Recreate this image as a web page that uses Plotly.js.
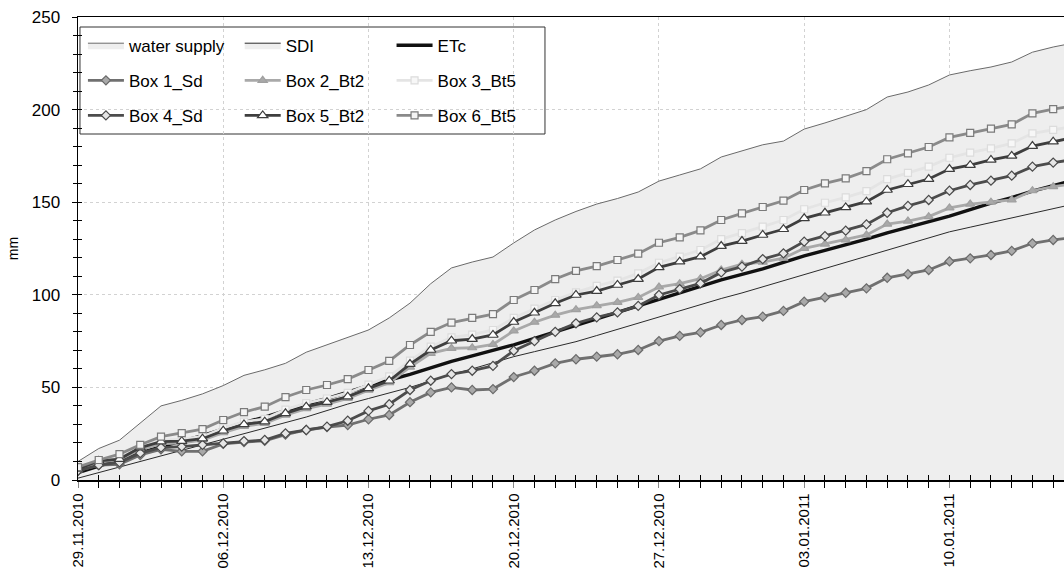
<!DOCTYPE html>
<html>
<head>
<meta charset="utf-8">
<script src="https://cdn.plot.ly/plotly-3.0.1.min.js"></script>
<style>html,body{margin:0;padding:0;background:#fff;}#chart{width:1064px;height:585px;}</style>
</head>
<body>
<div id="chart"></div>
<script>
// first day of the daily series
const startDate = '2010-11-29';
const xRangeEnd = '2011-01-15 12:30';

// daily cumulative values (mm), day 0 = 29.11.2010
const waterSupply = [10,17,21.5,31,40,43,46.5,51,56.5,59.5,63,69,73,77,81,87.5,95.5,106,114.5,117.7,120.4,128,135,140.4,145,149,152,155.5,161.4,164.7,168,174.4,177.6,181,183,189.5,192.8,196.5,200,206.8,209.5,213.3,218.7,221,223,225.7,231,233.8,236];
const sdi = [1,4,7,10,13,16,19,22,25,28,31,34,37.5,41,44,47,50,53.5,57,60,63.5,66.6,69.3,72,74.7,78,81.4,84.7,88,91.4,94.7,98,101,104.3,107.6,111,114.2,117.5,120.8,124,127.5,130.8,134,136.5,139,141.5,144,146.5,149];
const etc = [4,7.5,11,14.5,18,21,24,27.5,31,34,37.5,41,44,47.5,51,54,57,60.5,64,67,70,73,76.5,80,83.5,87,90.5,94,97.5,101,104.5,108,111,114,117.5,121,124,127,130,133.5,136.5,139.5,142.5,146,149.5,152.5,156,159,162];
const box1 = [5,8,8.5,13.5,16.5,15.5,15.5,19.5,20.5,21.2,24.5,27,28.6,29.7,32.8,35.1,42,47.3,50,48.6,49.1,55.6,59,63,65.2,66.6,67.9,70.2,75,77.8,79.7,83.7,86.4,88.2,91.3,96.3,98.6,101.1,103.5,109.2,111.1,113.4,118,119.7,121.5,123.7,127.8,129.6,131];
const box2 = [5.5,9.5,11,16.5,19.5,20,21.5,25.5,29,30.5,35,38.5,41,44,48.5,52.5,61,68.4,71.1,71.4,73.2,80.5,85.2,89,92,94.1,95.9,98.6,104.2,106,108.7,113.4,116.5,117.6,119.8,125.1,127.4,129.6,132.3,138.2,139.8,142.2,146.9,149,150,151.2,156.2,158.4,160];
const box3 = [6.5,10.5,12,18,21.5,22,23.5,28,31.5,33,38,41.5,44,47,51.5,56,64.5,72,77,78.5,81,87.5,92.5,97.2,101.3,104.8,107.6,111.6,117.3,120.6,124.2,130.1,133.3,136.8,140.4,146.2,149.7,152.6,156,162.5,165.8,169.2,174,176.8,179.1,181.8,187.2,189,191];
const box4 = [5,8,9.5,14.5,17.5,18,19,19.8,21,21.6,25.2,27,28.8,32,37.3,40.9,48.6,53.6,57.2,59,61.6,69.8,75,80,84.6,87.8,90.5,94,99.9,103.1,106.2,112.1,115.2,119.3,122.4,128.7,131.7,134.6,138,144.3,148,151.2,156.2,159.3,161.6,164.3,169.2,171.4,173];
const box5 = [6,10.3,11.3,17.5,20.7,21,22.3,26.6,30,31.5,36,39.6,42,45,49.5,53.6,62.6,70.2,75.2,76.1,78.3,85.3,90.3,95.4,99.9,102,105.3,108.5,114.8,117.9,120.6,126.3,129,132.3,135.4,141.3,144.3,147.2,150.3,156.6,159.7,162.5,167.9,170,172.8,175,180.3,182.7,185];
const box6 = [7,10.8,14,19,23.4,25.3,27.5,32.4,36.7,39.6,44.8,48.6,51.3,54.5,59.4,64.3,72.9,80,85,87.5,89.6,97.2,102.6,108.5,112.9,115.5,118.8,122.2,128.1,131,134.8,140.4,144,147.4,150.8,156.6,160.2,162.9,166.8,173.2,176.4,179.8,185,187.4,189.7,192,198,200.3,202];

const seriesNames = ['water supply','SDI','ETc','Box 1_Sd','Box 2_Bt2','Box 3_Bt5','Box 4_Sd','Box 5_Bt2','Box 6_Bt5'];

// daily dates
const dates = waterSupply.map((_, i) => {
  const d = new Date(startDate + 'T00:00:00Z');
  d.setUTCDate(d.getUTCDate() + i);
  return d.toISOString().slice(0, 10);
});

const FONT = 'Arial, "Liberation Sans", sans-serif';

function area(name, y, lineColor, legend) {
  return {x: dates, y: y, name: name, type: 'scatter', mode: 'lines', fill: 'tozeroy',
    fillcolor: '#eeeeee', line: {color: lineColor, width: 1}, legend: legend, legendgroup: name, hoverinfo: 'skip'};
}
function box(name, y, lineColor, sym, mFill, mLine, size, legend) {
  return {x: dates, y: y, name: name, type: 'scatter', mode: 'lines+markers',
    line: {color: lineColor, width: 2.8},
    marker: {symbol: sym, size: size, color: mFill, line: {color: mLine, width: 1.2}},
    legend: legend, legendgroup: name};
}

const traces = [
  area(seriesNames[0], waterSupply, '#6a6a6a', 'legend'),
  area(seriesNames[1], sdi, '#2a2a2a', 'legend2'),
  {x: dates, y: etc, name: seriesNames[2], type: 'scatter', mode: 'lines', line: {color: '#111111', width: 3.4}, legend: 'legend3', legendgroup: 'ETc'},
  box(seriesNames[3], box1, '#707070', 'diamond', '#a9a9a9', '#6a6a6a', 7, 'legend'),
  box(seriesNames[4], box2, '#a9a9a9', 'triangle-up', '#a9a9a9', '#a0a0a0', 8, 'legend2'),
  box(seriesNames[5], box3, '#e4e4e4', 'square', '#f7f7f7', '#dcdcdc', 7, 'legend3'),
  box(seriesNames[6], box4, '#4c4c4c', 'diamond', '#e6e6e6', '#4a4a4a', 7, 'legend'),
  box(seriesNames[7], box5, '#3e3e3e', 'triangle-up', '#ffffff', '#3e3e3e', 9, 'legend2'),
  box(seriesNames[8], box6, '#8a8a8a', 'square', '#f4f4f4', '#7a7a7a', 7, 'legend3'),
  {x: [null], y: [null], xaxis: 'x2', yaxis: 'y2', type: 'scatter', mode: 'lines', showlegend: false, hoverinfo: 'skip'}
];

const legendBase = {
  bgcolor: 'rgba(0,0,0,0)', borderwidth: 0, font: {family: FONT, size: 17, color: '#000'},
  orientation: 'v', itemwidth: 36, tracegroupgap: 10, traceorder: 'grouped',
  xref: 'paper', yref: 'paper', xanchor: 'left', yanchor: 'top', y: 0.977
};

const layout = {
  width: 1064, height: 585,
  margin: {l: 78, r: 0, t: 17, b: 105},
  paper_bgcolor: '#ffffff', plot_bgcolor: '#ffffff',
  font: {family: FONT, size: 15, color: '#000'},
  showlegend: true,
  legend: Object.assign({}, legendBase, {x: 0.005}),
  legend2: Object.assign({}, legendBase, {x: 0.164}),
  legend3: Object.assign({}, legendBase, {x: 0.318}),
  xaxis: {
    type: 'date', range: [startDate, xRangeEnd],
    tick0: startDate, dtick: 7 * 86400000, tickformat: '%d.%m.%Y', tickangle: -90,
    tickfont: {family: FONT, size: 15, color: '#000'},
    ticks: 'outside', ticklen: 6, tickcolor: '#888888', tickwidth: 1,
    minor: {dtick: 86400000, ticks: 'outside', ticklen: 6, tickcolor: '#000000', tickwidth: 1, showgrid: false},
    showline: true, linecolor: '#000000', linewidth: 1.5, mirror: true,
    showgrid: true, gridcolor: '#d2d2d2', griddash: 'dot', gridwidth: 1,
    zeroline: false
  },
  yaxis: {
    range: [0, 250], dtick: 50, tick0: 0,
    tickfont: {family: FONT, size: 17, color: '#000'},
    ticks: 'outside', ticklen: 5, tickcolor: '#000', tickwidth: 1, ticklabelstandoff: 8,
    minor: {dtick: 10, ticks: 'outside', ticklen: 4, tickcolor: '#000', showgrid: false},
    showline: true, linecolor: '#000000', linewidth: 1.5,
    showgrid: true, gridcolor: '#d2d2d2', griddash: 'dot', gridwidth: 1,
    zeroline: false,
    title: {text: 'mm', font: {family: FONT, size: 14, color: '#000'}, standoff: 10}
  },
  xaxis2: {
    type: 'date', overlaying: 'x', range: [startDate, xRangeEnd],
    tick0: startDate, dtick: 86400000, ticks: 'inside', ticklen: 5, tickcolor: '#000',
    showticklabels: false, showgrid: false, zeroline: false, showline: false
  },
  yaxis2: {
    overlaying: 'y', range: [0, 250], tick0: 0, dtick: 10, ticks: 'inside', ticklen: 4, tickcolor: '#000',
    showticklabels: false, showgrid: false, zeroline: false, showline: false, side: 'left'
  },
  shapes: [{
    type: 'rect', xref: 'paper', yref: 'paper', x0: 0.002, x1: 0.4736, y0: 0.7473, y1: 0.9784,
    line: {color: '#333333', width: 1}, fillcolor: '#ffffff', layer: 'between'
  }]
};

Plotly.newPlot('chart', traces, layout, {displayModeBar: false, staticPlot: true});
</script>
</body>
</html>
